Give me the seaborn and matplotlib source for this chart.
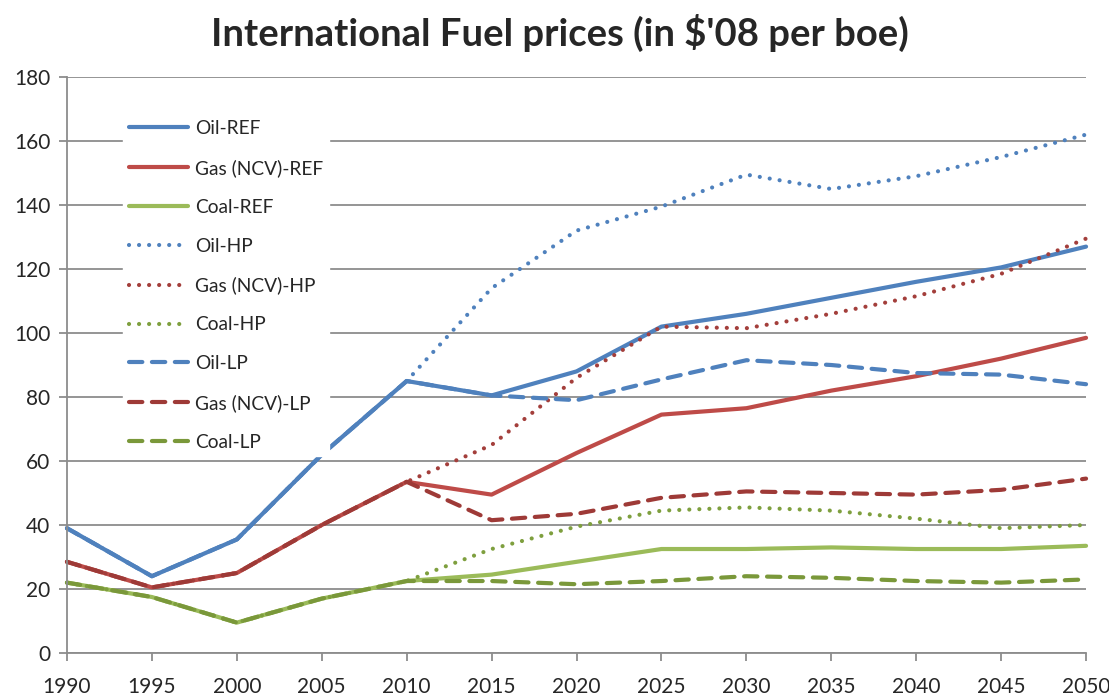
import pandas as pd
import numpy as np
import seaborn as sns
import matplotlib.pyplot as plt

years = [1990, 1995, 2000, 2005, 2010, 2015, 2020, 2025, 2030, 2035, 2040, 2045, 2050]

oil_ref = [39, 24, 35.5, 62, 85, 80.5, 88, 102, 106, 111, 116, 120.5, 127]
gas_ref = [28.5, 20.5, 25, 40, 53.5, 49.5, 62.5, 74.5, 76.5, 82, 86.5, 92, 98.5]
coal_ref = [22, 17.5, 9.5, 17, 22.5, 24.5, 28.5, 32.5, 32.5, 33, 32.5, 32.5, 33.5]
oil_hp = [39, 24, 35.5, 62, 85, 114, 132, 139.5, 149.5, 145, 149, 155, 162]
gas_hp = [28.5, 20.5, 25, 40, 53.5, 65, 86, 102, 101.5, 106, 111.5, 118.5, 129.5]
coal_hp = [22, 17.5, 9.5, 17, 22.5, 32.5, 39.5, 44.5, 45.5, 44.5, 42, 39, 40]
oil_lp = [39, 24, 35.5, 62, 85, 80.5, 79, 85.5, 91.5, 90, 87.5, 87, 84]
gas_lp = [28.5, 20.5, 25, 40, 53.5, 41.5, 43.5, 48.5, 50.5, 50, 49.5, 51, 54.5]
coal_lp = [22, 17.5, 9.5, 17, 22.5, 22.5, 21.5, 22.5, 24, 23.5, 22.5, 22, 23]

labels = ["Oil-REF", "Gas (NCV)-REF", "Coal-REF",
          "Oil-HP", "Gas (NCV)-HP", "Coal-HP",
          "Oil-LP", "Gas (NCV)-LP", "Coal-LP"]
values = [oil_ref, gas_ref, coal_ref, oil_hp, gas_hp, coal_hp, oil_lp, gas_lp, coal_lp]

colors = ["#4F81BD", "#BE4B48", "#9BBB59",
          "#4F81BD", "#A33E3B", "#7E9F3E",
          "#4F81BD", "#9E3A37", "#7A983A"]
dotted = (0, (0.01, 2.4))
dashed = (0, (3.2, 2.3))
styles = ["-", "-", "-", dotted, dotted, dotted, dashed, dashed, dashed]

sns.set_style("white")
plt.rcParams["font.family"] = ["Lato", "DejaVu Sans"]

fig = plt.figure(figsize=(11.09, 6.95), dpi=100)
ax = fig.add_axes([0.0604, 0.0604, 0.9189, 0.8288])

for lab, vals, col, ls in zip(labels, values, colors, styles):
    sns.lineplot(x=years, y=vals, color=col, linestyle=ls, linewidth=3,
                 label=lab, ax=ax, solid_capstyle="round",
                 dash_capstyle="round", clip_on=False)

ax.set_xlim(1990, 2050)
ax.set_ylim(0, 180)
ax.set_xticks(years)
ax.set_yticks(range(0, 181, 20))
ax.yaxis.grid(True, color="#8C8C8C", linewidth=1.3)
ax.set_axisbelow(True)
for s in ["top", "right"]:
    ax.spines[s].set_visible(False)
for s in ["left", "bottom"]:
    ax.spines[s].set_color("#8C8C8C")
    ax.spines[s].set_linewidth(1.3)
ax.tick_params(axis="both", length=6, width=1.3, color="#8C8C8C",
               labelsize=15, direction="out")
ax.tick_params(axis="x", pad=11)
ax.tick_params(axis="y", pad=6)
ax.tick_params(left=True, bottom=True)

leg = ax.legend(loc="upper left", bbox_to_anchor=(0.055, 0.935), frameon=True,
                fontsize=13.8, handlelength=3.1, handletextpad=0.35,
                labelspacing=1.14, borderpad=0.3, borderaxespad=0)
leg.get_frame().set_facecolor("white")
leg.get_frame().set_edgecolor("white")
leg.get_frame().set_alpha(1)
leg.set_zorder(5)

fig.suptitle("International Fuel prices (in $'08 per boe)", x=0.505, y=0.953,
             va="center", fontsize=27.5, fontweight="bold")

fig.savefig("out.png", dpi=100)
